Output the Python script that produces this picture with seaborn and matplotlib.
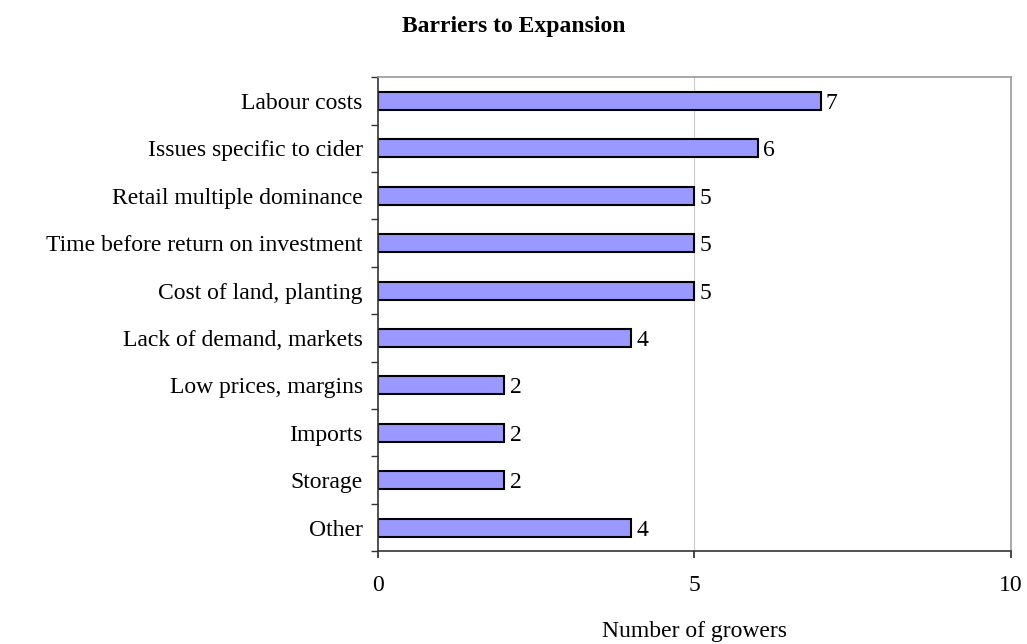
import matplotlib

matplotlib.use("Agg")
import matplotlib.pyplot as plt
import numpy as np
import pandas as pd
import seaborn as sns

# Chart data
barriers = [
    "Labour costs",
    "Issues specific to cider",
    "Retail multiple dominance",
    "Time before return on investment",
    "Cost of land, planting",
    "Lack of demand, markets",
    "Low prices, margins",
    "Imports",
    "Storage",
    "Other",
]
growers = [7, 6, 5, 5, 5, 4, 2, 2, 2, 4]

sns.set_theme(style="white")
plt.rcParams["font.family"] = ["Liberation Serif", "DejaVu Serif"]
plt.rcParams["text.color"] = "black"
plt.rcParams["xtick.labelcolor"] = "black"
plt.rcParams["ytick.labelcolor"] = "black"
plt.rcParams["axes.labelcolor"] = "black"

dataframe = pd.DataFrame({"barrier": barriers, "growers": growers})

figure = plt.figure(figsize=(10.27, 6.44), dpi=100)
axis = figure.add_axes([0.368, 0.144, 0.616, 0.736])

sns.barplot(
    data=dataframe,
    x="growers",
    y="barrier",
    orient="h",
    color="#9999FF",
    saturation=1,
    edgecolor="black",
    linewidth=1.5,
    width=0.38,
    ax=axis,
)

# value labels beside each bar
for index, value in enumerate(growers):
    axis.text(value + 0.08, index, str(value), va="center_baseline", ha="left",
              fontsize=17)

axis.set_xlim(0, 10)
axis.set_ylim(len(barriers) - 0.5, -0.5)
axis.set_xticks([0, 5, 10])
axis.tick_params(axis="x", labelsize=17, length=5, direction="out", pad=12,
                 bottom=True, color="#333333")
axis.tick_params(axis="y", which="major", length=0, labelsize=17, pad=11)
axis.set_yticks(np.arange(len(barriers) + 1) - 0.5, minor=True)
axis.tick_params(axis="y", which="minor", length=5, left=True, color="#333333")
axis.axvline(5, color="#cccccc", linewidth=0.8, zorder=0)

for side in ["top", "right"]:
    axis.spines[side].set_color("#999999")
    axis.spines[side].set_linewidth(1.2)
for side in ["left", "bottom"]:
    axis.spines[side].set_color("#333333")
    axis.spines[side].set_linewidth(1.2)

axis.set_ylabel("")
axis.set_xlabel("Number of growers", fontsize=17, labelpad=18)
figure.suptitle("Barriers to Expansion", fontsize=17, fontweight="bold", y=0.975,
                va="top")

figure.savefig("out.png", dpi=100)
plt.close()
